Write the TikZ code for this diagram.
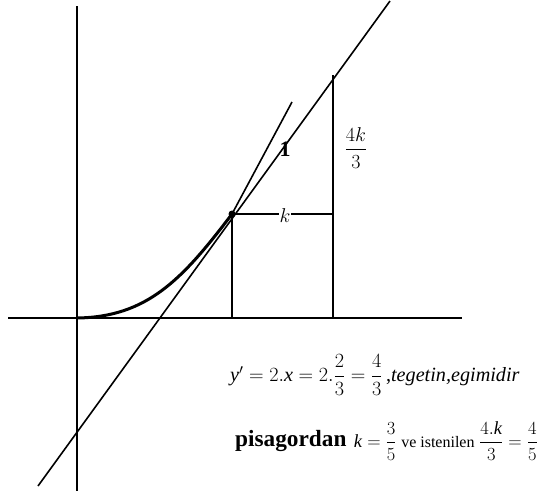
\documentclass[tikz,border=0pt]{standalone}
\usepackage{fix-cm}
\usepackage{amsmath}
\usepackage{fontspec}
\setmainfont{Liberation Serif}
\usetikzlibrary{positioning}
\tikzset{
    % line styles
    axis/.style={line width=2.2pt},
    thin line/.style={line width=1.6pt},
    curve/.style={line width=3pt},
    % label styles
    lbl/.style={inner sep=1pt, font=\fontsize{20}{23}\selectfont},
}
\begin{document}
\begin{tikzpicture}[x=1pt, y=-1pt]
    \useasboundingbox (0,0) rectangle (557,491);

    % points
    \coordinate (O) at (77,318);
    \coordinate (P) at (232,214);
    \coordinate (Pd) at (232,318);
    \coordinate (Q) at (333,214);
    \coordinate (R) at (333,75);
    \coordinate (Rd) at (333,318);

    % axes
    \coordinate (ytop) at (77,6);
    \coordinate (ybot) at (77,491);
    \coordinate (xl) at (8,318);
    \coordinate (xr) at (462,318);
    \draw[axis] (ytop) -- (ybot);
    \draw[axis] (xl) -- (xr);

    % tangent line
    \coordinate (tlow) at (38,486);
    \coordinate (thigh) at (390,1);
    \draw[thin line] (tlow) -- (thigh);

    % curve
    \draw[curve] (O) .. controls (147,317) and (182,280) .. (P);
    \coordinate (cend) at (292,102);
    \draw[thin line] (P) -- (cend);
    \fill (P) circle (3.5);

    % triangle
    \draw[axis] (P) -- (Pd);
    \draw[axis] (R) -- (Rd);
    \draw[thin line] (P) -- (Q);
    \node[lbl, fill=white] (k) at (285,216) {$k$};
    \node[lbl] (h) at (356,148) {$\dfrac{4k}{3}$};
    \node[lbl, font=\fontsize{22}{24}\selectfont\bfseries] (one) at (285,149) {1};

    % text
    \node[lbl, anchor=west, font=\fontsize{20.2}{23}\selectfont] (eq) at (229,375)
        {$\mathit{y}' = 2.\mathit{x} = 2.\dfrac{2}{3} = \dfrac{4}{3}$\,,\textit{tegetin,egimidir}};
    \node[lbl, anchor=west, font=\fontsize{23.3}{26}\selectfont\bfseries] (pis) at (234,441) {pisagordan};
    \node[lbl, anchor=west, font=\fontsize{18.5}{22}\selectfont, right=5pt of pis] (res)
        {$\mathit{k} = \dfrac{3}{5}$ {\fontsize{16}{20}\selectfont ve istenilen} $\dfrac{4.\mathit{k}}{3} = \dfrac{4}{5}$};
\end{tikzpicture}
\end{document}
